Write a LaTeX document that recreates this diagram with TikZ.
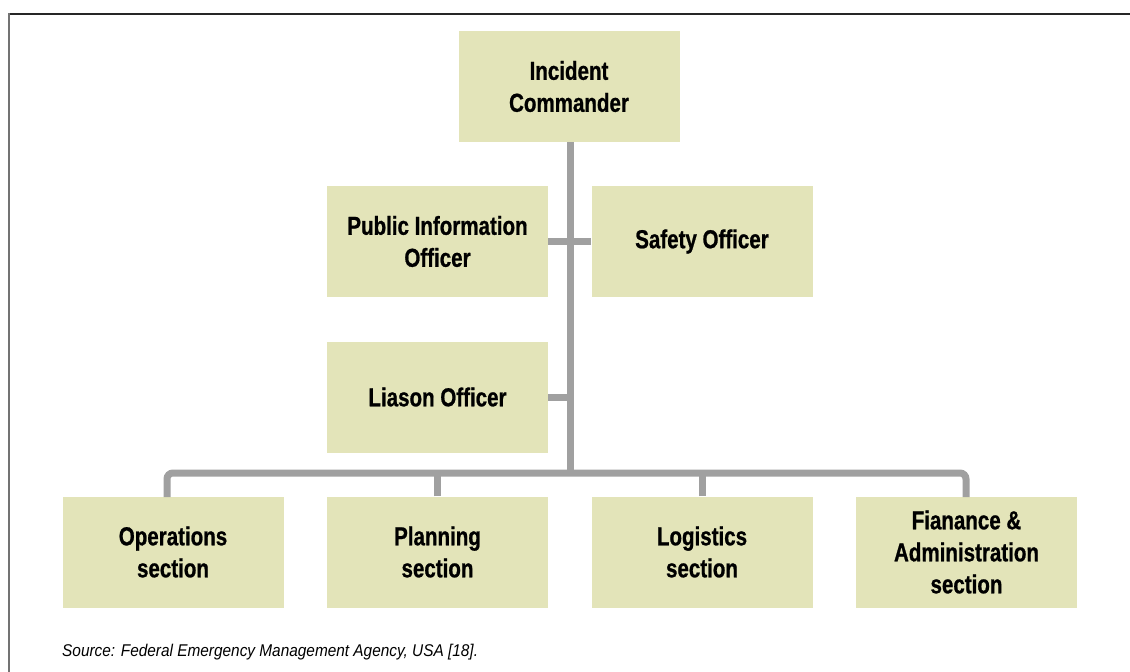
\documentclass[tikz,border=0pt]{standalone}
\usepackage{fontspec}
\setmainfont{Liberation Sans}
\newfontfamily\boxfont[FakeStretch=0.79,FakeBold=0.8]{Liberation Sans}
\newfontfamily\capfont[FakeStretch=0.905]{Liberation Sans}
\definecolor{boxfill}{HTML}{E3E4B9}
\definecolor{linegray}{HTML}{A0A0A0}
\begin{document}
\begin{tikzpicture}[x=1pt,y=-1pt,
  orgbox/.style={fill=boxfill, draw=none, minimum width=221pt, minimum height=111pt,
     inner sep=0pt, align=center, font=\boxfont\bfseries\fontsize{26}{32}\selectfont},
  conn/.style={draw=linegray, line width=7pt}]
\useasboundingbox (0,0) rectangle (1130,672);
\draw[line width=2pt, draw=black!85] (8,14) -- (1130,14);
\draw[line width=2pt, draw=black!55] (9,13) -- (9,672);
\node[orgbox] (ic) at (569,86.5) {Incident\\Commander};
\node[orgbox] (pio) at (437.5,241.5) {Public Information\\Officer};
\node[orgbox] (saf) at (702,241.5) {Safety Officer};
\node[orgbox] (lia) at (437.5,397) {Liason Officer};
\node[orgbox] (ops) at (173,552) {Operations\\section};
\node[orgbox] (pla) at (437.5,552) {Planning\\section};
\node[orgbox] (log) at (702,552) {Logistics\\section};
\node[orgbox] (fin) at (966.5,552) {Fianance \&\\Administration\\section};
\coordinate (bus) at (570,473);
\coordinate (top) at (570,142);
\draw[conn] (top) -- (bus);
\draw[conn] (pio.east) -- (saf.west);
\draw[conn] (lia.east) -- (lia.east -| bus);
\draw[conn, rounded corners=6pt] (167,497) |- (966,473) -- (966,497);
\draw[conn] (pla.north) -- (pla.north |- bus);
\draw[conn] (log.north) -- (log.north |- bus);
\node[anchor=west, inner sep=0pt, font=\capfont\itshape\fontsize{17}{19}\selectfont] (src) at (62,652) {Source: Federal Emergency Management Agency, USA [18].};
\end{tikzpicture}
\end{document}
